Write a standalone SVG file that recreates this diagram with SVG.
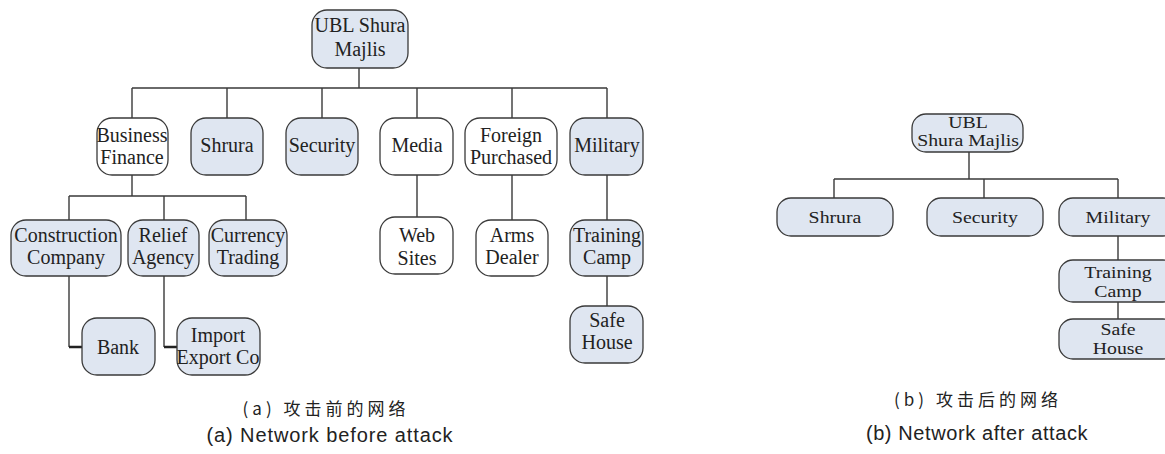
<svg xmlns="http://www.w3.org/2000/svg" width="1165" height="454" viewBox="0 0 1165 454">
<style>
.b{fill:#dfe6f1;stroke:#3a3a3a;stroke-width:1.3}
.w{fill:#ffffff;stroke:#3a3a3a;stroke-width:1.3}
.t{font-family:"Liberation Serif","Times New Roman",serif;font-size:20px;fill:#222;text-anchor:middle}
.s{font-family:"Liberation Serif","Times New Roman",serif;font-size:16.5px;fill:#222;text-anchor:middle}
.c{fill:none;stroke:#3a3a3a;stroke-width:1.4}
.k{fill:none;stroke:#222;stroke-width:2.6}
.cap{font-family:"Liberation Sans","Noto Sans CJK SC",sans-serif;fill:#222;text-anchor:middle}
.zh{font-family:"Noto Sans CJK SC","Liberation Sans",sans-serif;fill:#222;text-anchor:middle;font-size:17px;letter-spacing:4px}
</style>
<rect width="1165" height="454" fill="#ffffff"/>
<g id="connectors">
<path class="c" d="M359 68V88M132 88H607M132 88V118M227 88V118M322 88V118M417 88V118M512 88V118M607 88V118"/>
<path class="c" d="M132 175V196M69 196H246M69 196V220M164 196V220M246 196V220"/>
<path class="c" d="M69 276V347M164 276V347"/>
<path class="k" d="M69 347H82M164 347H177"/>
<path class="c" d="M417 175V218M512 175V220M607 175V220M607 276V306"/>
<path class="c" d="M969 152V179M834 179H1118M834 179V198M984 179V198M1118 179V198M1118 236V260M1118 302V319"/>
</g>
<g id="a-root"><rect class="b" x="312" y="10" width="96" height="58" rx="15"/><text class="t" x="360" y="32">UBL Shura</text><text class="t" x="360" y="56">Majlis</text></g>
<g id="a-business"><rect class="w" x="97" y="118" width="71" height="57" rx="15"/><text class="t" x="132" y="142">Business</text><text class="t" x="132" y="164">Finance</text></g>
<g id="a-shrura"><rect class="b" x="191" y="118" width="72" height="57" rx="15"/><text class="t" x="227" y="152">Shrura</text></g>
<g id="a-security"><rect class="b" x="286" y="118" width="72" height="57" rx="15"/><text class="t" x="322" y="152">Security</text></g>
<g id="a-media"><rect class="w" x="380" y="118" width="73" height="57" rx="15"/><text class="t" x="417" y="152">Media</text></g>
<g id="a-foreign"><rect class="w" x="465" y="118" width="92" height="57" rx="15"/><text class="t" x="511" y="142">Foreign</text><text class="t" x="511" y="164">Purchased</text></g>
<g id="a-military"><rect class="b" x="570" y="118" width="73" height="57" rx="15"/><text class="t" x="607" y="152">Military</text></g>
<g id="a-construction"><rect class="b" x="11" y="220" width="110" height="56" rx="15"/><text class="t" x="66" y="242">Construction</text><text class="t" x="66" y="264">Company</text></g>
<g id="a-relief"><rect class="b" x="128" y="220" width="71" height="56" rx="15"/><text class="t" x="163" y="242">Relief</text><text class="t" x="163" y="264">Agency</text></g>
<g id="a-currency"><rect class="b" x="209" y="220" width="78" height="56" rx="15"/><text class="t" x="248" y="242">Currency</text><text class="t" x="248" y="264">Trading</text></g>
<g id="a-bank"><rect class="b" x="82" y="318" width="73" height="57" rx="15"/><text class="t" x="118" y="354">Bank</text></g>
<g id="a-import"><rect class="b" x="177" y="318" width="83" height="57" rx="15"/><text class="t" x="218" y="342">Import</text><text class="t" x="218" y="364">Export Co</text></g>
<g id="a-web"><rect class="w" x="380" y="217" width="73" height="57" rx="15"/><text class="t" x="417" y="242">Web</text><text class="t" x="417" y="265">Sites</text></g>
<g id="a-arms"><rect class="w" x="476" y="220" width="72" height="56" rx="15"/><text class="t" x="512" y="242">Arms</text><text class="t" x="512" y="264">Dealer</text></g>
<g id="a-training"><rect class="b" x="570" y="220" width="73" height="56" rx="15"/><text class="t" x="607" y="242">Training</text><text class="t" x="607" y="264">Camp</text></g>
<g id="a-safe"><rect class="b" x="570" y="306" width="73" height="57" rx="15"/><text class="t" x="607" y="327">Safe</text><text class="t" x="607" y="349">House</text></g>
<g id="b-root"><rect class="b" x="912" y="114" width="111" height="38" rx="14"/><text class="s" transform="translate(968 128) scale(1.2 1)">UBL</text><text class="s" transform="translate(968 146) scale(1.2 1)">Shura Majlis</text></g>
<g id="b-shrura"><rect class="b" x="777" y="198" width="116" height="38" rx="14"/><text class="s" transform="translate(835 223) scale(1.2 1)">Shrura</text></g>
<g id="b-security"><rect class="b" x="927" y="198" width="116" height="38" rx="14"/><text class="s" transform="translate(985 223) scale(1.2 1)">Security</text></g>
<g id="b-military"><rect class="b" x="1059" y="198" width="118" height="38" rx="14"/><text class="s" transform="translate(1118 223) scale(1.2 1)">Military</text></g>
<g id="b-training"><rect class="b" x="1059" y="260" width="118" height="42" rx="14"/><text class="s" transform="translate(1118 278) scale(1.2 1)">Training</text><text class="s" transform="translate(1118 297) scale(1.2 1)">Camp</text></g>
<g id="b-safe"><rect class="b" x="1059" y="319" width="118" height="40" rx="14"/><text class="s" transform="translate(1118 335) scale(1.2 1)">Safe</text><text class="s" transform="translate(1118 354) scale(1.2 1)">House</text></g>
<g id="captions">
<text class="zh" x="326" y="415">(a) 攻击前的网络</text>
<text class="cap" x="330" y="442" font-size="20" letter-spacing="0.9">(a) Network before attack</text>
<text class="zh" x="978" y="406">(b) 攻击后的网络</text>
<text class="cap" x="977" y="440" font-size="20" letter-spacing="0.6">(b) Network after attack</text>
</g>
</svg>
